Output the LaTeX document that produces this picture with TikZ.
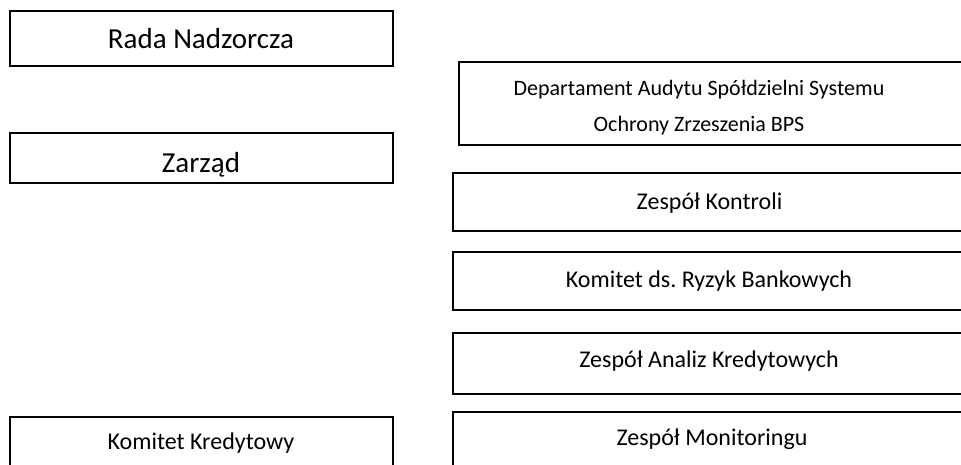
\documentclass[tikz,border=0pt]{standalone}
\usepackage{fontspec}
\setmainfont{Carlito}
\frenchspacing
\begin{document}
\begin{tikzpicture}[x=1pt,y=-1pt,
  box/.style={draw=black,line width=1.6pt,inner sep=0pt,outer sep=0pt,anchor=north west,fill=white},
  big/.style={inner sep=0pt,anchor=base,font=\fontsize{29}{34}\selectfont},
  small/.style={inner sep=0pt,anchor=base,font=\fontsize{24}{29}\selectfont},
  deptext/.style={inner sep=0pt,anchor=base,align=center,font=\fontsize{22}{36}\selectfont}]
\useasboundingbox (0,0) rectangle (961,464);
\clip (0,0) rectangle (961,464);
% left column
\node[box,minimum width=383pt,minimum height=55pt] (rada) at (10,11) {};
\node[box,minimum width=383pt,minimum height=50pt] (zarzad) at (10,133) {};
\node[box,minimum width=383pt,minimum height=80pt] (kk) at (10,417) {};
\node[big] (radat) at (201,48.5) {Rada Nadzorcza};
\node[big] (zarzadt) at (201,172.5) {Zarząd};
\node[small] (kkt) at (201,449.5) {Komitet Kredytowy};
% right column
\node[box,minimum width=560pt,minimum height=83pt] (dep) at (459,62) {};
\node[box,minimum width=560pt,minimum height=58pt] (zk) at (453,173) {};
\node[box,minimum width=560pt,minimum height=58pt] (kr) at (453,252) {};
\node[box,minimum width=560pt,minimum height=61pt] (za) at (453,333) {};
\node[box,minimum width=560pt,minimum height=80pt] (zm) at (453,412) {};
\node[deptext] (dept) at (699,131.5) {Departament Audytu Spółdzielni Systemu\\Ochrony Zrzeszenia BPS};
\node[small] (zkt) at (709.5,209) {Zespół Kontroli};
\node[small] (krt) at (709,287.5) {Komitet ds.\ Ryzyk Bankowych};
\node[small] (zat) at (709,367.5) {Zespół Analiz Kredytowych};
\node[small] (zmt) at (712,445) {Zespół Monitoringu};
\end{tikzpicture}
\end{document}
